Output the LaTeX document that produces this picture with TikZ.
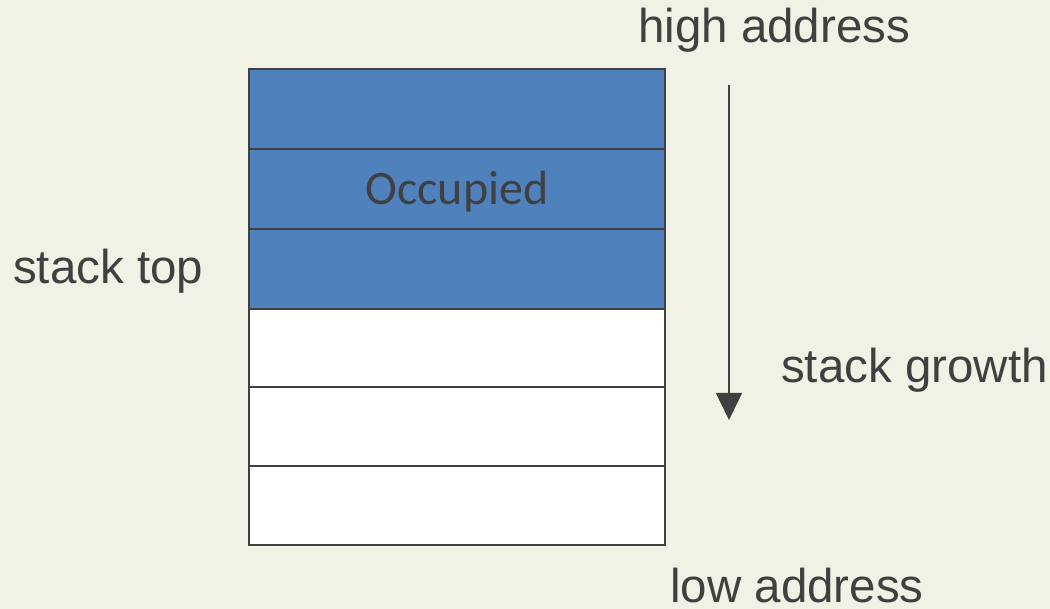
\documentclass[tikz,border=0pt]{standalone}
\usepackage{fontspec}
\setmainfont{Liberation Sans}
\newfontfamily\calib{Carlito}
\usetikzlibrary{arrows.meta}
\definecolor{bgc}{RGB}{242,241,230}
\definecolor{ink}{RGB}{64,64,64}
\definecolor{fillblue}{RGB}{79,129,189}
\tikzset{
  cell/.style={draw=ink, line width=1.5pt, minimum width=416pt, minimum height=80pt, inner sep=0pt, outer sep=0pt, anchor=north west},
  used/.style={cell, fill=fillblue},
  free/.style={cell, fill=white},
  lbl/.style={text=ink, inner sep=0pt, anchor=base west, font=\fontsize{47.5pt}{50pt}\selectfont},
}
\begin{document}
\begin{tikzpicture}[x=1pt,y=1pt]
\fill[bgc] (0,0) rectangle (1050,609);
\useasboundingbox (0,0) rectangle (1050,609);
\node[used] (c1) at (249,540) {};
\node[used] (c2) at (249,460) {};
\node[used] (c3) at (249,380) {};
\node[free, minimum height=78pt] (c4) at (249,300) {};
\node[free] (c5) at (249,222) {};
\node[free, minimum height=79pt] (c6) at (249,143) {};
\node[text=ink, inner sep=0pt, anchor=base, font=\calib\fontsize{48pt}{50pt}\selectfont] (occ) at (457,404) {Occupied};
\node[lbl] (hi) at (638,566) {high address};
\node[lbl] (lo) at (670,6) {low address};
\node[lbl] (top) at (13,325) {stack top};
\node[lbl] (grow) at (781,226) {stack growth};
\coordinate (as) at (729,524);
\coordinate (ae) at (729,189);
\draw[ink, line width=1.5pt, -{Triangle[length=27pt,width=26pt]}] (as) -- (ae);
\end{tikzpicture}
\end{document}
